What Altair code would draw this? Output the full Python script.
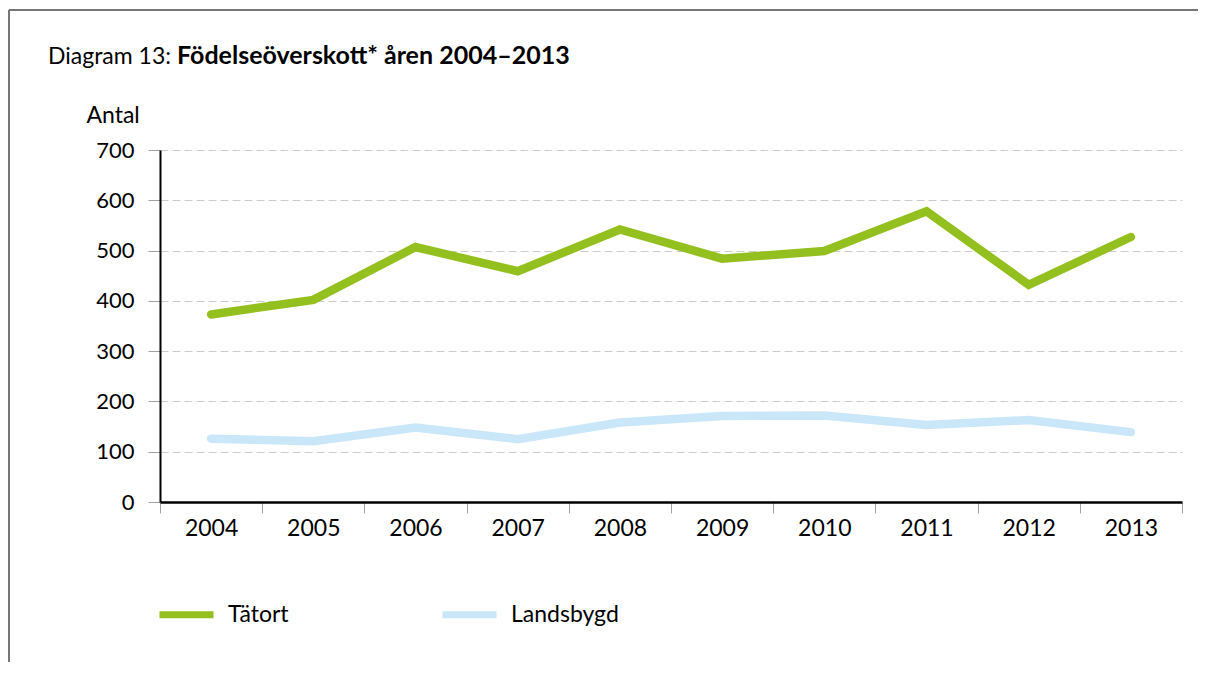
import altair as alt
import pandas as pd

years = ["2004", "2005", "2006", "2007", "2008", "2009", "2010", "2011", "2012", "2013"]
tatort = [373, 402, 507, 459, 542, 484, 499, 578, 432, 527]
landsbygd = [126, 121, 148, 125, 158, 171, 172, 153, 163, 139]
series_names = ["Tätort", "Landsbygd"]
series_colors = ["#93C01F", "#C9E7F8"]
y_ticks = [0, 100, 200, 300, 400, 500, 600, 700]

title_regular = "Diagram 13:"
title_bold = "Födelseöverskott* åren 2004–2013"
y_title = "Antal"

FONT = "Lato"

rows = []
for name, vals in zip(series_names, [tatort, landsbygd]):
    for yr, v in zip(years, vals):
        rows.append({"År": yr, "Antal": v, "Serie": name})
df = pd.DataFrame(rows)

lines = alt.Chart(df).mark_line(strokeWidth=8.5, strokeCap="round", strokeJoin="miter").encode(
    x=alt.X("År:O", bandPosition=0.5,
            scale=alt.Scale(type="band", paddingInner=0, paddingOuter=0),
            axis=alt.Axis(title=None, labelAngle=0, tickBand="extent", grid=False,
                          domainColor="black", domainWidth=2.5, tickColor="#a0a0a0",
                          tickSize=11, labelFont=FONT, labelFontSize=23, labelPadding=4,
                          labelColor="black")),
    y=alt.Y("Antal:Q", scale=alt.Scale(domain=[0, 700], nice=False),
            axis=alt.Axis(values=y_ticks, title=y_title, titleAngle=0, titleX=-74, titleY=-28,
                          titleAlign="left", titleBaseline="alphabetic", titleFont=FONT,
                          titleFontSize=23, titleFontWeight="normal", titleColor="black",
                          grid=True, gridDash=[8, 4], gridColor="#cccccc", gridWidth=1,
                          tickColor="#a0a0a0", tickSize=12, domainColor="black", domainWidth=2,
                          labelFont=FONT, labelFontSize=22, labelPadding=14, labelColor="black")),
    color=alt.Color("Serie:N", sort=series_names,
                    scale=alt.Scale(domain=series_names, range=series_colors),
                    legend=alt.Legend(title=None, orient="none", legendX=-4, legendY=434,
                                      direction="horizontal", symbolType="stroke",
                                      symbolSize=2916, symbolStrokeWidth=7,
                                      labelFont=FONT, labelFontSize=23, labelColor="black",
                                      labelOffset=11, columnPadding=139, padding=0)),
    detail="Serie:N",
)

one = pd.DataFrame({"k": [0]})
left_rule = alt.Chart(one).mark_rule(color="#777777", strokeWidth=2).encode(
    x=alt.value(-151), y=alt.value(-140), y2=alt.value(512))
top_rule = alt.Chart(one).mark_rule(color="#777777", strokeWidth=2).encode(
    x=alt.value(-151), x2=alt.value(1038), y=alt.value(-140))

t1 = alt.Chart(one).mark_text(text=title_regular, align="left", baseline="alphabetic",
                              font=FONT, fontSize=23, color="black").encode(
    x=alt.value(-112), y=alt.value(-86))
t2 = alt.Chart(one).mark_text(text=title_bold, align="left", baseline="alphabetic",
                              font=FONT, fontSize=25, fontWeight="bold", color="black").encode(
    x=alt.value(17), y=alt.value(-86))

chart = alt.layer(left_rule, top_rule, lines, t1, t2).properties(
    width=1022, height=352,
    padding={"left": 0, "top": 1, "right": 0, "bottom": 0},
    background="white",
).configure_view(strokeWidth=0)

chart.save("out.html", embed_options={"renderer": "svg", "actions": False})
